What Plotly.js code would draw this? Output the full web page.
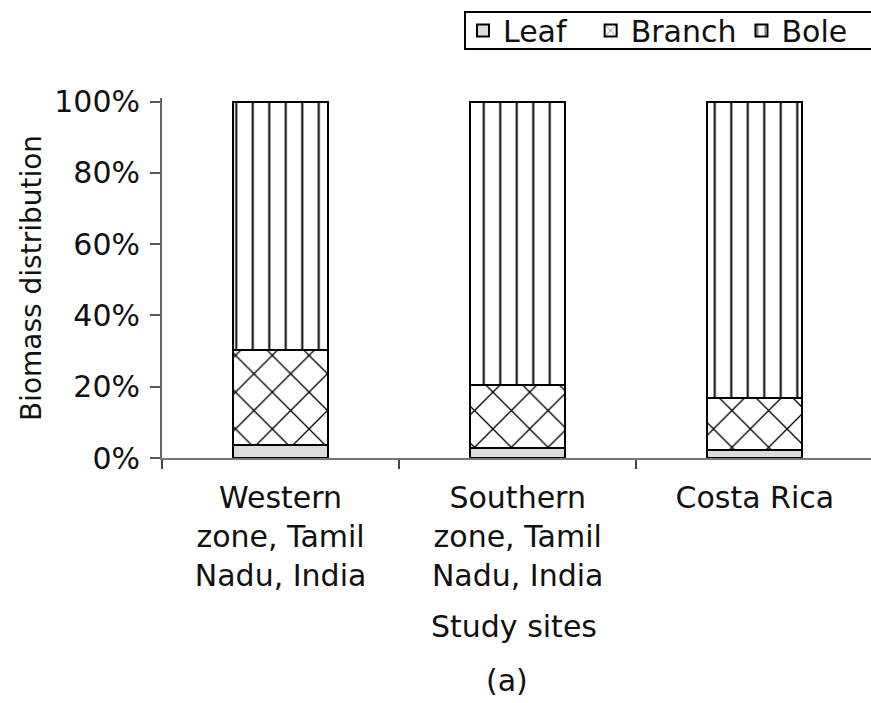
<!DOCTYPE html>
<html>
<head>
<meta charset="utf-8">
<script src="https://cdn.plot.ly/plotly-3.0.1.min.js"></script>
<style>html,body{margin:0;padding:0;background:#fff;}#chart{width:871px;height:703px;}</style>
</head>
<body>
<div id="chart"></div>
<script>
var sites = ["Western<br>zone, Tamil<br>Nadu, India", "Southern<br>zone, Tamil<br>Nadu, India", "Costa Rica"];
var seriesNames = ["Leaf", "Branch", "Bole"];
var leaf = [3.6, 2.9, 2.2];
var branch = [26.7, 17.7, 14.6];
var bole = [69.7, 79.4, 83.2];
var yTickVals = [0, 20, 40, 60, 80, 100];
var yTickText = ["0%", "20%", "40%", "60%", "80%", "100%"];

var FONT = "DejaVu Sans, Liberation Sans, Arial, sans-serif";
var lineStyle = {color: "#000", width: 2};
var PAD = "\u00a0\u00a0";

var traces = [
  {type: "bar", name: seriesNames[0] + PAD, x: sites, y: leaf,
   marker: {color: "#dcdcdc", line: lineStyle}},
  {type: "bar", name: seriesNames[1], x: sites, y: branch,
   marker: {color: "#fff", line: lineStyle,
            pattern: {shape: "x", size: 26, solidity: 0.1, fgcolor: "#000", bgcolor: "#fff", fillmode: "replace"}}},
  {type: "bar", name: seriesNames[2], x: sites, y: bole,
   marker: {color: "#fff", line: lineStyle,
            pattern: {shape: "|", size: 16.5, solidity: 0.12, fgcolor: "#000", bgcolor: "#fff", fillmode: "replace"}}}
];

var layout = {
  width: 871, height: 703,
  margin: {l: 162, r: 0, t: 98, b: 245},
  paper_bgcolor: "#fff", plot_bgcolor: "#fff",
  font: {family: FONT, size: 30, color: "#111"},
  barmode: "stack", bargap: 0.6,
  showlegend: true,
  legend: {orientation: "h", x: 0.4245, xanchor: "left", y: 1.1875, yanchor: "middle",
           traceorder: "normal", borderwidth: 0, bgcolor: "rgba(0,0,0,0)",
           font: {family: FONT, size: 30, color: "#111"}},
  xaxis: {type: "category", range: [-0.5, 2.49], tickson: "boundaries",
          ticks: "outside", ticklen: 9, tickwidth: 2, tickcolor: "#444",
          showline: true, linecolor: "#777", linewidth: 2, showgrid: false, zeroline: false,
          ticklabelstandoff: 12,
          tickfont: {family: FONT, size: 30, color: "#111"}},
  yaxis: {range: [0, 101], tickvals: yTickVals, ticktext: yTickText,
          ticks: "outside", ticklen: 10, tickwidth: 2, tickcolor: "#555",
          showline: true, linecolor: "#666", linewidth: 2, showgrid: false, zeroline: false,
          ticklabelstandoff: 4,
          tickfont: {family: FONT, size: 30, color: "#111"},
          title: {text: "Biomass distribution", standoff: 4, font: {family: FONT, size: 28, color: "#111"}}},
  shapes: [
    {type: "rect", xref: "paper", yref: "paper", x0: 0.4274, x1: 1.02, y0: 1.136, y1: 1.239,
     line: {color: "#000", width: 2}, fillcolor: "rgba(0,0,0,0)"}
  ],
  annotations: [
    {text: "Study sites", xref: "paper", yref: "paper", x: 0.497, y: -0.467, xanchor: "center", yanchor: "middle",
     showarrow: false, font: {family: FONT, size: 30, color: "#111"}},
    {text: "(a)", xref: "paper", yref: "paper", x: 0.487, y: -0.617, xanchor: "center", yanchor: "middle",
     showarrow: false, font: {family: FONT, size: 30, color: "#111"}}
  ]
};

Plotly.newPlot("chart", traces, layout, {displayModeBar: false, staticPlot: true});
</script>
</body>
</html>
